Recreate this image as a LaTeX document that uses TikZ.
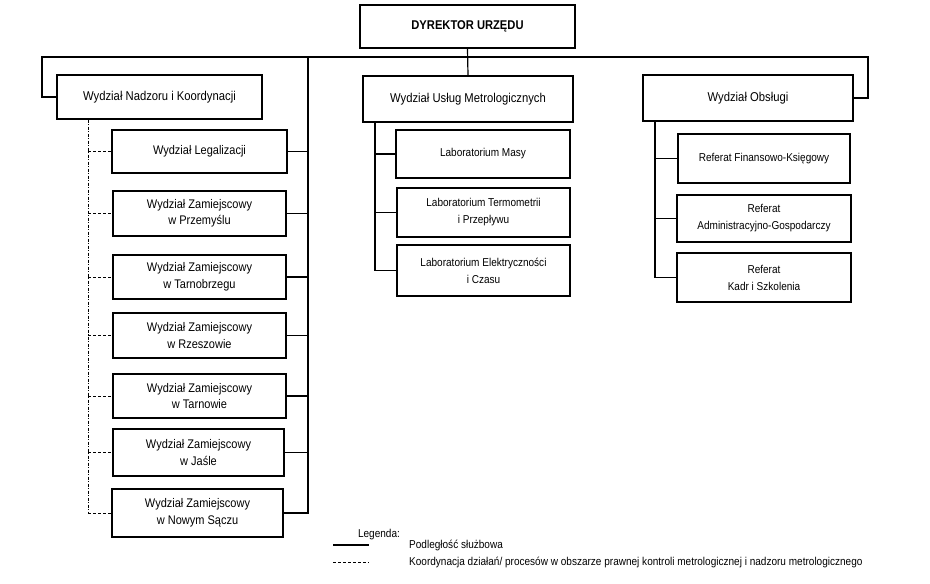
\documentclass[tikz,border=0pt]{standalone}
\usepackage{fontspec}
\setmainfont{Liberation Sans}[FakeStretch=0.88]
\begin{document}
\begin{tikzpicture}[x=1pt,y=-1pt,
  box/.style={draw, line width=1.3pt, rectangle, inner sep=0pt, align=center,
    font=\fontsize{12.5}{16.5}\selectfont},
  topbox/.style={box, font=\fontsize{12.8}{16}\selectfont},
  smallbox/.style={box, font=\fontsize{11.4}{17}\selectfont},
  conn/.style={line width=1.2pt},
  coordline/.style={line width=1pt, dash pattern=on 3pt off 2pt},
  coordvert/.style={line width=1pt, dash pattern=on 3pt off 1.5pt on 1pt off 1.5pt},
  legtext/.style={font=\fontsize{11.4}{13}\selectfont, anchor=west, inner sep=0pt}]
\useasboundingbox (0,0) rectangle (930,584);

% top level
\node[box, font=\bfseries\fontsize{12.7}{14}\selectfont, minimum width=215pt, minimum height=43pt] (dir) at (467.5,26.5) {DYREKTOR URZĘDU};
\node[topbox, minimum width=205pt, minimum height=44pt] (nad) at (159.5,97) {Wydział Nadzoru i Koordynacji};
\node[topbox, minimum width=210pt, minimum height=46pt] (usl) at (468,99) {Wydział Usług Metrologicznych};
\node[topbox, minimum width=210pt, minimum height=46pt] (obs) at (748,98) {Wydział Obsługi};

% left column
\node[box, minimum width=175pt, minimum height=43pt] (leg) at (199.5,151.5) {Wydział Legalizacji};
\node[box, minimum width=173pt, minimum height=45pt] (prz) at (199.5,213.5) {Wydział Zamiejscowy\\w Przemyślu};
\node[box, minimum width=173pt, minimum height=44pt] (tnb) at (199.5,277) {Wydział Zamiejscowy\\w Tarnobrzegu};
\node[box, minimum width=173pt, minimum height=45pt] (rze) at (199.5,335.5) {Wydział Zamiejscowy\\w Rzeszowie};
\node[box, minimum width=173pt, minimum height=44pt] (tar) at (199.5,396) {Wydział Zamiejscowy\\w Tarnowie};
\node[box, minimum width=171pt, minimum height=47pt] (jas) at (198.5,452.5) {Wydział Zamiejscowy\\w Jaśle};
\node[box, minimum width=171pt, minimum height=48pt] (nsa) at (197.5,513) {Wydział Zamiejscowy\\w Nowym Sączu};

% middle column
\node[smallbox, minimum width=174pt, minimum height=48pt] (mas) at (483,154) {Laboratorium Masy};
\node[smallbox, minimum width=173pt, minimum height=49pt] (ter) at (483.5,212.5) {Laboratorium Termometrii\\i Przepływu};
\node[smallbox, minimum width=173pt, minimum height=51pt] (ele) at (483.5,270.5) {Laboratorium Elektryczności\\i Czasu};

% right column
\node[smallbox, minimum width=172pt, minimum height=49pt] (fin) at (764,158.5) {Referat Finansowo-Księgowy};
\node[smallbox, minimum width=174pt, minimum height=47pt] (adm) at (764,218.5) {Referat\\Administracyjno-Gospodarczy};
\node[smallbox, minimum width=174pt, minimum height=49pt] (kad) at (764,277.5) {Referat\\Kadr i Szkolenia};

% helper coordinates
\coordinate (lt) at (42,57);
\coordinate (rt) at (868,57);
\coordinate (vt) at (308,57);
\coordinate (mv) at (375,0);
\coordinate (rv) at (655,0);
\coordinate (dv) at (88,0);

% main connectors
\draw[conn] (nad.west) -| (lt) -- (rt) |- (obs.east);
\draw[conn] (dir.south) -- (usl.north);
\draw[conn] (vt) |- (nsa.east);
\foreach \n in {leg,prz,tnb,rze,tar,jas}
  \draw[conn] (\n.east) -- (\n.east -| vt);

\draw[conn] (usl.south -| mv) |- (ele.west);
\draw[conn] (mas.west) -- (mas.west -| mv);
\draw[conn] (ter.west) -- (ter.west -| mv);

\draw[conn] (obs.south -| rv) |- (kad.west);
\draw[conn] (fin.west) -- (fin.west -| rv);
\draw[conn] (adm.west) -- (adm.west -| rv);

% coordination lines
\draw[coordvert] (nad.south -| dv) -- (nsa.west -| dv);
\foreach \n in {leg,prz,tnb,rze,tar,jas,nsa}
  \draw[coordline] (\n.west -| dv) -- (\n.west);

% legend
\node[legtext, anchor=center] (legt) at (379,535) {Legenda:};
\coordinate (l1a) at (333,545);
\coordinate (l1b) at (369,545);
\coordinate (l2a) at (333,562);
\coordinate (l2b) at (369,562);
\draw[conn] (l1a) -- (l1b);
\draw[coordline] (l2a) -- (l2b);
\node[legtext] (lt1) at (409,545) {Podległość służbowa};
\node[legtext] (lt2) at (409,562) {Koordynacja działań/ procesów w obszarze prawnej kontroli metrologicznej i nadzoru metrologicznego};
\end{tikzpicture}
\end{document}
